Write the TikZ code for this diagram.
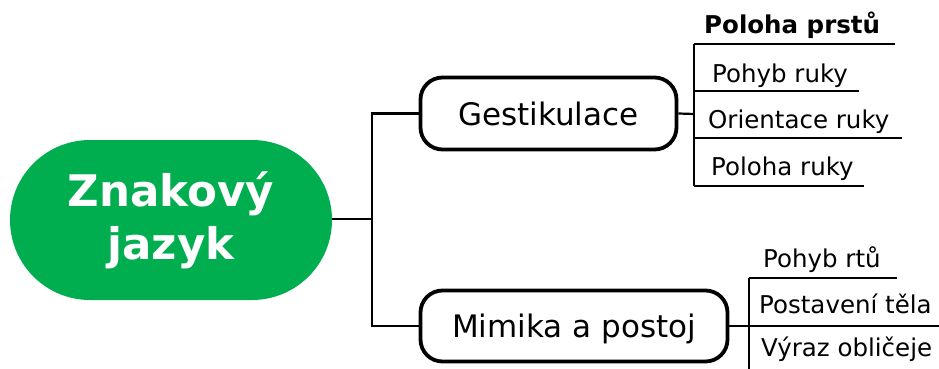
\documentclass[tikz,border=0pt]{standalone}
\usepackage{fontspec}
\setmainfont{DejaVu Sans}
\definecolor{rootgreen}{RGB}{0,174,80}
\begin{document}
\begin{tikzpicture}[x=1pt,y=-1pt,
  rootbox/.style={fill=rootgreen, text=white, inner sep=0pt,
    font=\bfseries\fontsize{43.5}{53}\selectfont, align=center,
    minimum width=322pt, minimum height=160pt, rounded corners=80pt},
  branchbox/.style={draw=black, line width=3.8pt, rounded corners=22pt, fill=white,
    inner sep=0pt, font=\fontsize{31}{36}\selectfont, text height=23pt, text depth=0pt},
  leaf/.style={inner sep=0pt, anchor=base west, font=\fontsize{24.5}{29}\selectfont},
  conn/.style={draw=black, line width=2.2pt}]
\useasboundingbox (0,0) rectangle (939,369);
\clip (0,0) rectangle (939,369);

\node[rootbox] (root) at (171,220) {Znakový\\jazyk};
\node[branchbox, minimum width=256pt, minimum height=72pt] (g) at (548.5,113.5) {Gestikulace};
\node[branchbox, minimum width=307pt, minimum height=71pt] (m) at (574,326) {Mimika a postoj};

\coordinate (j1) at (372,219);
\draw[conn] (root.east |- j1) -- (j1);
\draw[conn] (j1) |- (g.west);
\draw[conn] (j1) |- (m.west);

% upper group
\node[leaf] (l1) at (704,34) {\bfseries Poloha prstů};
\node[leaf] (l2) at (712,82) {Pohyb ruky};
\node[leaf] (l3) at (708,128) {Orientace ruky};
\node[leaf] (l4) at (711,175) {Poloha ruky};
\coordinate (j2) at (694,114);
\coordinate (u1) at (694,44);
\coordinate (u2) at (694,91);
\coordinate (u3) at (694,138);
\coordinate (u4) at (694,186);
\draw[conn] (g.east) -- (j2);
\draw[conn] (u1) -- (u4);
\draw[conn] (u1) -- (895,44);
\draw[conn] (u2) -- (859,91);
\draw[conn] (u3) -- (902,138);
\draw[conn] (u4) -- (864,186);

% lower group
\node[leaf] (k1) at (763,267) {Pohyb rtů};
\node[leaf] (k2) at (759,313) {Postavení těla};
\node[leaf] (k3) at (761,356) {Výraz obličeje};
\coordinate (v1) at (749,278);
\coordinate (v2) at (749,326);
\coordinate (v3) at (749,380);
\draw[conn] (m.east) -- (950,326);
\draw[conn] (v1) -- (v3);
\draw[conn] (v1) -- (897,278);
\end{tikzpicture}
\end{document}
